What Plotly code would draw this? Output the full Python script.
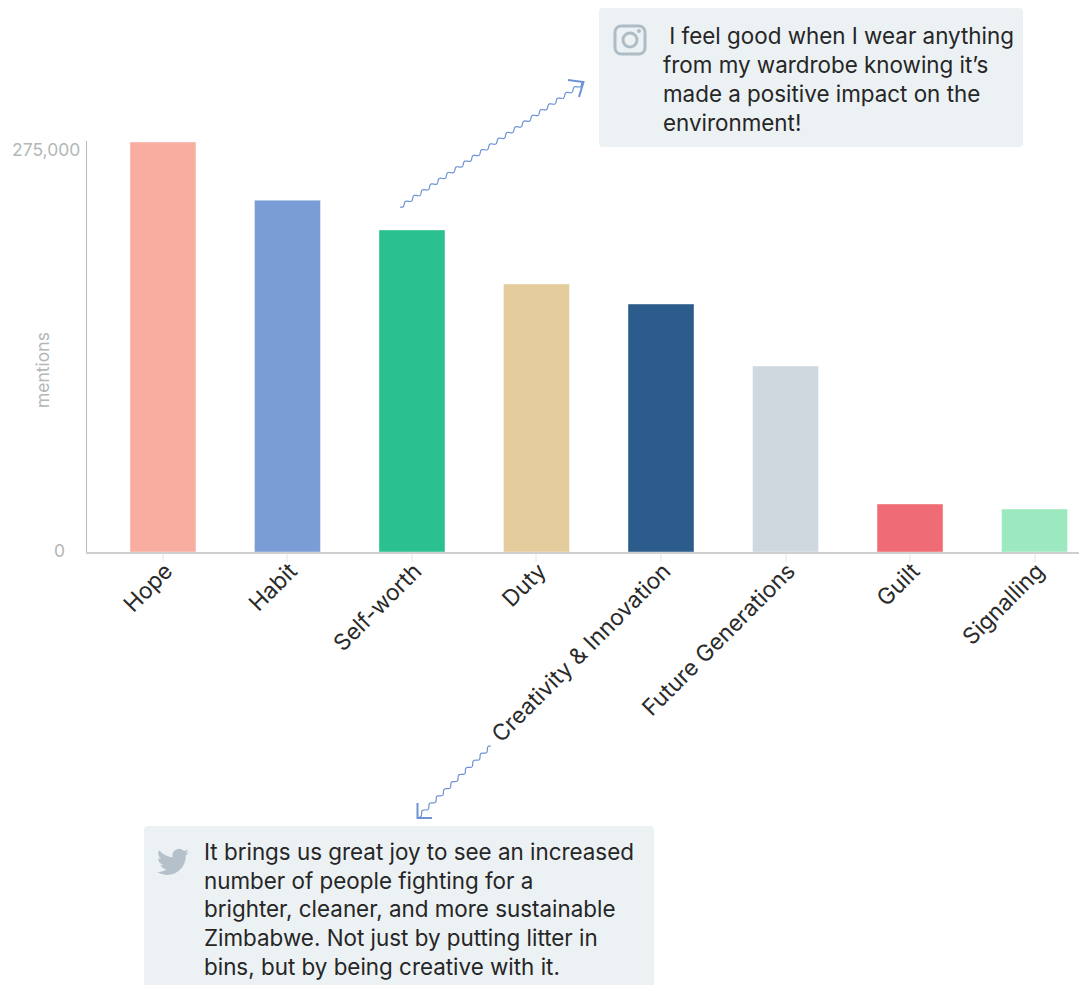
import base64
import math
import plotly.graph_objects as go

categories = ["Hope", "Habit", "Self-worth", "Duty", "Creativity & Innovation",
              "Future Generations", "Guilt", "Signalling"]
mentions = [275000, 236000, 216000, 179700, 166300, 124700, 32200, 28800]
bar_colors = ["#f9ada0", "#7a9dd6", "#2bc08f", "#e4cc9c", "#2c5c8c", "#cfd7df", "#f06c74", "#9ce9c0"]
y_ticks = [0, 275000]
y_tick_labels = ["0", "275,000"]
quote_top = ["\u00a0I feel good when I wear anything", "from my wardrobe knowing it\u2019s",
             "made a positive impact on the", "environment!"]
quote_bottom = ["It brings us great joy to see an increased", "number of people fighting for a",
                "brighter, cleaner, and more sustainable", "Zimbabwe. Not just by putting litter in",
                "bins, but by being creative with it."]

W, H = 1079, 985
L, R, T, B = 87, 1079, 141, 552
FONT = "Inter"
BLUE = "#6d93d3"


def px(x):
    return (x - L) / (R - L)


def py(y):
    return (B - y) / (B - T)


def rounded(x0, y0, x1, y1, r):
    a, b, c, d = px(x0), px(x1), py(y0), py(y1)
    rx, ry = r / (R - L), r / (B - T)
    return (f"M{a+rx},{c} L{b-rx},{c} Q{b},{c} {b},{c-ry} L{b},{d+ry} Q{b},{d} {b-rx},{d} "
            f"L{a+rx},{d} Q{a},{d} {a},{d+ry} L{a},{c-ry} Q{a},{c} {a+rx},{c} Z")


def svg_uri(svg):
    return "data:image/svg+xml;base64," + base64.b64encode(svg.encode()).decode()


def wavy_svg(x0, y0, x1, y1, head, box, period=10.2, amp=1.6):
    """Decorative squiggle arrow as an antialiased SVG placed at page pixels."""
    bx0, by0, bx1, by1 = box
    dx, dy = x1 - x0, y1 - y0
    n = math.hypot(dx, dy)
    ux, uy = dx / n, dy / n
    pts = []
    for i in range(int(n) * 2 + 1):
        s = i / 2
        w = amp * math.sin(2 * math.pi * s / period)
        pts.append(f"{x0 + ux * s - uy * w - bx0:.2f},{y0 + uy * s + ux * w - by0:.2f}")
    hd = " ".join(f"{a - bx0},{b - by0}" for a, b in head)
    return (f'<svg xmlns="http://www.w3.org/2000/svg" width="{bx1-bx0}" height="{by1-by0}" '
            f'viewBox="0 0 {bx1-bx0} {by1-by0}">'
            f'<polyline points="{" ".join(pts)}" fill="none" stroke="{BLUE}" stroke-width="1.2"/>'
            f'<polyline points="{hd}" fill="none" stroke="{BLUE}" stroke-width="2"/></svg>')


def image_at(svg, box):
    x0, y0, x1, y1 = box
    return dict(source=svg_uri(svg), xref="paper", yref="paper", x=px(x0), y=py(y0),
                sizex=(x1 - x0) / (R - L), sizey=(y1 - y0) / (B - T),
                xanchor="left", yanchor="top", sizing="stretch", layer="above")


insta = ('<svg xmlns="http://www.w3.org/2000/svg" width="36" height="36" viewBox="0 0 36 36">'
         '<rect x="3" y="3" width="30" height="28" rx="6" fill="none" stroke="#aebcc6" stroke-width="3"/>'
         '<circle cx="18" cy="17" r="7" fill="none" stroke="#aebcc6" stroke-width="3"/>'
         '<circle cx="27" cy="8" r="2" fill="#aebcc6"/></svg>')
bird = ('<svg xmlns="http://www.w3.org/2000/svg" width="32" height="32" viewBox="0 0 24 24">'
        '<path fill="#b4c1ca" d="M23.953 4.57a10 10 0 01-2.825.775 4.958 4.958 0 002.163-2.723c-.951.555-2.005.959-3.127 1.184'
        'a4.92 4.92 0 00-8.384 4.482C7.69 8.095 4.067 6.13 1.64 3.162a4.822 4.822 0 00-.666 2.475c0 1.71.87 3.213 2.188 4.096'
        'a4.904 4.904 0 01-2.228-.616v.06a4.923 4.923 0 003.946 4.827 4.996 4.996 0 01-2.212.085 4.936 4.936 0 004.604 3.417'
        ' 9.867 9.867 0 01-6.102 2.105c-.39 0-.779-.023-1.17-.067a13.995 13.995 0 007.557 2.209c9.053 0 13.998-7.496 13.998-13.985'
        ' 0-.21 0-.42-.015-.63A9.935 9.935 0 0024 4.59z"/></svg>')

fig = go.Figure(go.Bar(x=categories, y=mentions, width=0.53,
                       marker=dict(color=bar_colors, line=dict(width=1, color="rgba(255,255,255,0.4)")),
                       hoverinfo="x+y"))

shapes = [
    dict(type="path", xref="paper", yref="paper", path=rounded(599, 8, 1023, 147, 4),
         fillcolor="#ecf1f4", line=dict(width=0), layer="below"),
    dict(type="path", xref="paper", yref="paper", path=rounded(144, 826, 654, 1000, 4),
         fillcolor="#ecf1f4", line=dict(width=0), layer="below"),
]

QSIZE = 22.4
LINE_STEP = 28.7
annotations = []
for i, line in enumerate(quote_top):
    annotations.append(dict(text=line, x=px(661), y=py(36 + i * LINE_STEP), xref="paper", yref="paper",
                            xanchor="left", yanchor="middle", showarrow=False,
                            font=dict(family=FONT, size=QSIZE, color="#262626")))
for i, line in enumerate(quote_bottom):
    annotations.append(dict(text=line, x=px(202), y=py(851.5 + i * LINE_STEP), xref="paper", yref="paper",
                            xanchor="left", yanchor="middle", showarrow=False,
                            font=dict(family=FONT, size=QSIZE, color="#262626")))
for v, lab, right, shift in zip(y_ticks, y_tick_labels, [67, 82], [2, -7]):
    annotations.append(dict(text=lab, x=px(right), y=v, xref="paper", yref="y", xanchor="right", yanchor="middle",
                            yshift=shift, showarrow=False, font=dict(family=FONT, size=17.5, color="#b3b7b7")))
annotations.append(dict(text="mentions", x=px(42), y=py(370), xref="paper", yref="paper", textangle=-90,
                        xanchor="center", yanchor="middle", showarrow=False,
                        font=dict(family=FONT, size=17.5, color="#b3b7b7")))

box1 = (390, 70, 595, 215)
box2 = (405, 740, 500, 825)
images = [
    image_at(insta, (612, 23, 648, 59)),
    image_at(bird, (157, 846, 189, 878)),
    image_at(wavy_svg(400, 207, 583, 83, [(568, 80), (583.5, 82), (579, 97)], box1), box1),
    image_at(wavy_svg(491, 746, 418, 817, [(417.5, 803), (417.5, 818), (432, 818)], box2), box2),
]

fig.update_layout(
    width=W, height=H, margin=dict(l=L, r=W - R, t=T, b=H - B, pad=0),
    paper_bgcolor="white", plot_bgcolor="white", showlegend=False,
    shapes=shapes, annotations=annotations, images=images,
    xaxis=dict(type="category", range=[-0.61, 7.357], tickangle=-45, showgrid=False, zeroline=False,
               showline=True, linecolor="#cfcfcf", linewidth=1.5,
               ticks="outside", ticklen=8, tickcolor="#f2f2f2", tickwidth=2,
               ticklabelstandoff=-13, ticklabelshift=3,
               tickfont=dict(family=FONT, size=22.7, color="#2a2a2a")),
    yaxis=dict(range=[0, 275000 * 411 / 410], tickvals=y_ticks, showticklabels=False, showgrid=False, zeroline=False,
               showline=True, linecolor="#b8b8b8", linewidth=1, ticks=""),
)

fig.write_html("out.html", config=dict(displayModeBar=False), post_script="document.body.style.margin='0';")
